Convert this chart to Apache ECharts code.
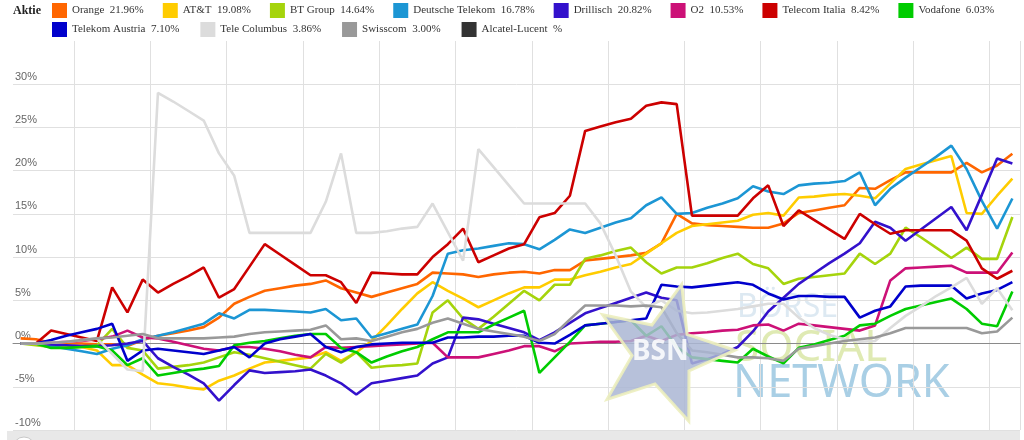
<!DOCTYPE html>
<html>
<head>
<meta charset="utf-8">
<script src="https://cdn.jsdelivr.net/npm/echarts@6/dist/echarts.min.js"></script>
<style>
  html, body { margin: 0; padding: 0; background: #fff; }
  #chart { width: 1024px; height: 440px; }
</style>
</head>
<body>
<div id="chart"></div>
<script>
// trading days shown (one category per day)
const days = Array.from({ length: 66 }, (_, i) => 'T' + (i + 1));

const names = ['Orange', 'AT&T', 'BT Group', 'Deutsche Telekom', 'Drillisch', 'O2', 'Telecom Italia', 'Vodafone',
  'Telekom Austria', 'Tele Columbus', 'Swisscom', 'Alcatel-Lucent'];
const colors = ['#ff6600', '#ffcc00', '#a5d40c', '#1c96d4', '#3311cc', '#cc1177', '#cc0000', '#00cc00',
  '#0000cc', '#dcdcdc', '#999999', '#333333'];
// last change shown in the legend
const lastPct = ['21.96', '19.08', '14.64', '16.78', '20.82', '10.53', '8.42', '6.03', '7.10', '3.86', '3.00', ''];

const orange = [0.6, 0.5, 0.1, 0.0, 0.0, -0.1, -0.1, -0.3, 0.4, 0.9, 1.2, 1.5, 1.9, 3.0, 4.6, 5.4, 6.1, 6.4, 6.7, 6.9,
  7.3, 6.4, 5.9, 5.4, 5.9, 6.4, 6.9, 8.2, 8.1, 8.0, 7.7, 8.0, 8.2, 8.3, 8.1, 8.5, 8.5, 9.6, 9.8, 10.0,
  10.2, 10.5, 11.6, 15.0, 13.9, 13.7, 13.6, 13.5, 13.4, 13.4, 13.9, 15.1, 15.4, 15.7, 16.0, 18.0, 17.9, 18.9, 19.8, 19.8,
  19.8, 19.8, 20.9, 19.8, 20.6, 21.96];
const att = [0, 0, -0.1, -0.2, -0.4, -0.8, -2.5, -2.5, -3.6, -4.6, -4.8, -5.1, -5.3, -4.3, -3.7, -2.9, -2.2, -2.0, -1.8, -1.6,
  -1.0, -2.0, -1.0, 0.3, 2.1, 4.0, 5.8, 7.1, 6.1, 5.2, 4.2, 5.0, 5.8, 6.5, 6.5, 7.4, 7.4, 7.9, 8.3, 8.8,
  9.2, 10.4, 11.6, 12.8, 13.6, 13.8, 14.0, 14.2, 14.9, 15.1, 14.8, 16.9, 17.0, 17.2, 17.3, 17.1, 16.8, 18.5, 20.2, 20.7,
  21.2, 21.7, 15.1, 15.0, 17.1, 19.08];
const btGroup = [0, -0.2, -0.4, -0.5, -0.4, -0.2, 1.7, -0.5, -0.8, -2.9, -2.7, -2.5, -2.2, -1.6, -1.0, -1.3, -1.7, -2.1, -2.5, -2.9,
  -1.2, -2.2, -1.0, -2.8, -2.6, -2.5, -2.3, 3.6, 5.0, 2.9, 1.7, 3.1, 4.6, 6.1, 5.0, 6.8, 6.8, 9.8, 10.2, 10.7,
  11.1, 9.4, 8.1, 8.8, 8.8, 9.3, 9.9, 10.4, 9.2, 8.7, 6.9, 7.5, 7.7, 7.9, 8.1, 10.4, 9.2, 10.4, 13.4, 12.3,
  11.1, 9.9, 11.1, 9.8, 9.8, 14.64];
const telekom = [0, 0, -0.3, -0.6, -0.9, -1.2, -0.6, -0.2, 0.5, 0.9, 1.3, 1.8, 2.3, 3.5, 2.9, 3.9, 3.9, 3.8, 3.7, 3.6,
  4.0, 2.7, 2.9, 0.7, 1.2, 1.7, 2.2, 5.5, 10.4, 10.8, 11.0, 11.3, 11.6, 11.5, 10.9, 12.0, 13.2, 12.8, 13.4, 14.0,
  14.5, 16.0, 16.9, 15.0, 15.1, 15.7, 16.2, 16.8, 18.2, 17.6, 17.3, 18.3, 18.5, 18.6, 18.8, 19.8, 16.0, 17.9, 19.2, 20.4,
  21.6, 22.9, 20.2, 16.5, 13.3, 16.78];
const drillisch = [0, 0, -0.1, -0.2, -0.3, -0.3, -0.2, 0.0, 0.3, -1.7, -2.7, -3.6, -4.6, -6.6, -4.8, -3.1, -3.4, -3.3, -3.2, -3.0,
  -3.7, -4.6, -5.9, -4.6, -4.3, -4.0, -3.7, -2.3, -1.6, 3.0, 2.8, 2.3, 1.8, 1.3, 0.4, 1.3, 2.4, 3.5, 4.1, 4.7,
  5.3, 5.9, 5.3, 5.0, -2.3, -1.8, -1.2, -0.4, 1.4, 3.7, 5.3, 6.9, 8.1, 9.3, 10.4, 11.6, 14.1, 13.4, 11.9, 13.2,
  14.5, 15.8, 13.1, 17.2, 21.4, 20.82];
const o2 = [0, 0, 0.1, 0.2, 0.3, 0.5, 0.8, 1.5, 0.7, 0.6, 0.2, -0.2, -0.6, -0.8, -0.4, -0.4, -0.6, -0.9, -1.3, -1.6,
  -0.4, -0.5, -0.4, -0.3, -0.2, -0.1, 0.0, 0.1, -1.6, -1.6, -1.6, -1.2, -0.8, -0.3, -0.3, -0.9, 0.0, 0.1, 0.2, 0.2,
  0.3, 0.9, 0.3, 1.0, 1.2, 1.3, 1.5, 1.6, 2.1, 2.2, 1.5, 2.3, 2.1, 1.9, 1.7, 1.5, 2.1, 7.3, 8.7, 8.8,
  8.9, 9.0, 8.2, 8.2, 8.2, 10.53];
const telecomItalia = [0, 0, 1.5, 1.1, 0.7, 0.3, 6.5, 3.6, 7.4, 5.9, 6.9, 7.8, 8.8, 5.3, 6.3, 8.9, 11.5, 10.3, 9.1, 7.9,
  7.9, 7.1, 4.7, 8.2, 8.1, 8.0, 8.0, 10.0, 11.5, 13.3, 9.4, 10.2, 11.0, 11.5, 14.6, 15.1, 17.1, 24.6, 25.1, 25.6,
  26.0, 27.5, 27.9, 27.7, 14.8, 14.8, 14.8, 14.8, 16.8, 18.3, 13.6, 15.4, 14.3, 13.2, 12.1, 15.0, 13.8, 12.7, 13.1, 13.1,
  13.1, 13.1, 11.9, 8.7, 7.5, 8.42];
const vodafone = [0, 0, -0.5, -0.5, -0.4, -0.3, -0.8, -2.5, -1.7, -3.7, -3.4, -3.1, -2.9, -2.6, -0.2, 0.1, 0.3, 0.6, 0.9, 1.1,
  1.1, -0.5, -1.0, -2.2, -1.5, -0.9, -0.4, 0.5, 1.3, 1.3, 1.3, 2.2, 3.0, 3.8, -3.4, -1.6, 0.2, 2.1, 2.3, 2.5,
  2.7, 0.9, 2.0, -0.4, -1.6, -1.8, -2.0, -2.2, -0.6, -1.5, -2.3, -0.5, -0.1, 0.4, 0.9, 2.1, 2.3, 3.2, 4.0, 4.4,
  4.8, 5.2, 4.0, 2.3, 2.0, 6.03];
const telekomAustria = [0, 0, 0.4, 0.9, 1.3, 1.7, 2.3, -2.0, -0.8, -0.6, -0.8, -1.0, -1.2, -0.8, -0.4, -1.6, 0.0, 0.5, 0.8, 1.1,
  -0.4, -1.0, -0.4, -0.1, 0.0, 0.1, 0.1, 0.1, 0.7, 0.7, 0.8, 0.8, 0.9, 0.9, 0.1, 0.0, 1.0, 2.1, 2.3, 2.5,
  2.7, 2.9, 6.8, 6.6, 6.5, 6.7, 6.9, 7.1, 6.8, 5.8, 5.1, 5.5, 5.5, 5.4, 5.4, 3.0, 3.8, 4.3, 6.6, 6.7,
  6.7, 6.7, 5.2, 5.8, 6.2, 7.10];
const teleColumbus = [0, 0, 0.1, 0.2, 0.4, 0.6, -1.2, -3.0, -3.2, 29.0, 28.0, 26.9, 25.8, 22.0, 19.4, 12.8, 12.8, 12.8, 12.8, 12.8,
  16.4, 22.0, 12.8, 12.8, 13.0, 13.3, 13.5, 16.2, 12.9, 9.6, 22.5, 20.4, 18.3, 16.2, 16.2, 16.2, 16.2, 16.2, 13.9, 10.2,
  6.0, 4.2, 5.0, 3.8, 3.5, 3.6, 3.8, 4.0, 4.3, 4.6, 4.6, 3.0, 1.8, 1.0, 0.5, 0.2, 0.3, 1.8, 3.2, 4.3,
  5.5, 6.5, 7.6, 4.6, 6.4, 3.86];
const swisscom = [0, 0, 0.1, 0.2, 0.4, 0.6, 0.7, 0.9, 1.1, 0.6, 0.6, 0.6, 0.6, 0.7, 0.8, 1.1, 1.3, 1.4, 1.5, 1.6,
  2.1, 0.5, 0.6, 0.3, 0.8, 1.3, 1.7, 2.4, 2.9, 2.3, 1.7, 1.4, 1.1, 0.8, 0.3, 1.1, 2.8, 4.4, 4.4, 4.4,
  4.3, 4.4, 4.2, 1.2, -0.8, -1.0, -1.3, -1.6, -1.6, -1.7, -2.0, -0.6, -0.3, 0.0, 0.3, 0.5, 0.7, 1.2, 1.8, 1.8,
  1.8, 1.8, 1.8, 1.2, 1.4, 3.00];
const alcatel = [];

const seriesData = [orange, att, btGroup, telekom, drillisch, o2, telecomItalia, vodafone,
  telekomAustria, teleColumbus, swisscom, alcatel];

const chart = echarts.init(document.getElementById('chart'), null, { renderer: 'canvas' });

const legendBase = {
  left: 52, width: 970, padding: 0, itemGap: 19, itemWidth: 15, itemHeight: 15, icon: 'rect', selectedMode: false,
  formatter: name => `${name}  ${lastPct[names.indexOf(name)]}%`,
  textStyle: { fontFamily: 'Liberation Serif', fontSize: 11, color: '#333' },
};

// star of the watermark logo
function starPoints(cx, cy, ro, ri, rot) {
  const pts = [];
  for (let k = 0; k < 10; k++) {
    const r = k % 2 ? ri : ro;
    const a = (rot + k * 36) * Math.PI / 180;
    pts.push([cx + r * Math.cos(a), cy + r * Math.sin(a)]);
  }
  return pts;
}

const gridColors = Array(9).fill('#e0e0e0').concat(['rgba(0,0,0,0)']);

chart.setOption({
  animation: false,
  backgroundColor: '#fff',
  legend: [
    { ...legendBase, top: 3, data: names.slice(0, 8) },
    { ...legendBase, top: 22, itemGap: 21, data: names.slice(8) },
  ],
  grid: { left: 13, right: 4, top: 41, bottom: 10 },
  xAxis: {
    type: 'category', data: days, boundaryGap: true,
    axisLine: { onZero: true, lineStyle: { color: '#8a8a8a', width: 1 } },
    axisTick: { show: false }, axisLabel: { show: false },
    splitLine: { show: true, interval: i => i % 5 === 4, lineStyle: { color: '#e0e0e0' } },
  },
  yAxis: {
    type: 'value', min: -10, max: 35, interval: 5,
    axisLine: { show: false }, axisTick: { show: false },
    axisLabel: {
      inside: true, margin: 2, verticalAlign: 'bottom', padding: [0, 0, 2, 0],
      color: '#666', fontSize: 11, fontFamily: 'Liberation Sans',
      formatter: v => (v === 35 ? '' : v + '%'),
    },
    splitLine: { lineStyle: { color: gridColors } },
  },
  graphic: [
    { type: 'rect', z: 0, shape: { x: 7, y: 431, width: 1013, height: 9 }, style: { fill: '#e8e8e8' } },
    { type: 'circle', z: 1, shape: { cx: 24, cy: 448, r: 11 }, style: { fill: '#fff', stroke: '#c8c8c8', lineWidth: 1 } },
    { type: 'text', z: 0, left: 13, top: 5, style: { text: 'Aktie', font: 'bold 12px "Liberation Serif"', fill: '#222' } },
    { type: 'text', z: 0, x: 737, y: 292, style: { text: 'BÖRSE', font: '32px "Noto Sans"', fill: '#dde9f2' } },
    { type: 'text', z: 0, x: 735, y: 326, style: { text: 'SOCIAL', font: '44px "Noto Sans"', fill: '#dfeab3' } },
    { type: 'text', z: 0, x: 733, y: 362, style: { text: 'NETWORK', font: '45px "Noto Sans"', fill: '#a9cfe5' } },
    {
      type: 'polygon', z: 10,
      shape: { points: starPoints(663, 354, 72, 31, -147) },
      style: { fill: 'rgba(170,182,212,0.85)', stroke: 'rgba(236,238,190,0.9)', lineWidth: 3 },
    },
    { type: 'text', z: 11, x: 632, y: 338, style: { text: 'BSN', font: 'bold 28px "Noto Sans"', fill: 'rgba(255,255,255,0.85)' } },
  ],
  series: names.map((n, i) => ({
    name: n, type: 'line', data: seriesData[i], symbol: 'none', showSymbol: false,
    lineStyle: { width: 2.6, color: colors[i] }, itemStyle: { color: colors[i] },
  })),
});
</script>
</body>
</html>
